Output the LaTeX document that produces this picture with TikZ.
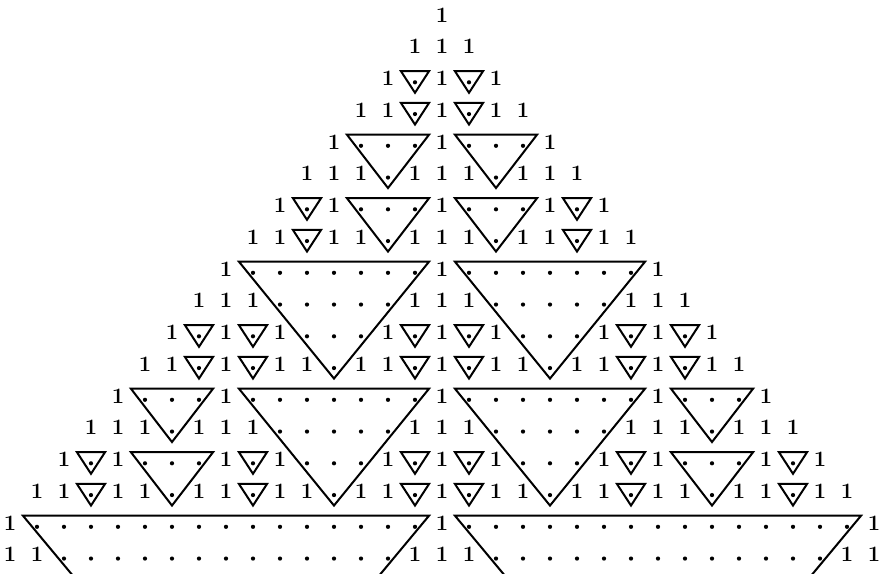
\documentclass[tikz,border=0pt]{standalone}
\usepackage{tikz}

\newcommand{\zerotri}[3]{%
  \draw[tri] ({(#2)-0.52},{(#1)-0.23}) -- ({(#3)+0.52},{(#1)-0.23})
    -- ({((#2)+(#3))/2},{(#1)+((#3)-(#2))/2+0.45}) -- cycle;}

\begin{document}
\begin{tikzpicture}[x=27pt, y=-31.75pt,
  one/.style={font=\fontsize{22}{22}\selectfont\bfseries, inner sep=0pt},
  nil/.style={fill=black},
  tri/.style={line width=2pt, line join=miter}]

\clip (-16.370,-0.4724) rectangle (16.296,17.575);

\foreach \digits [count=\r from 0] in {
  {1},
  {1,1,1},
  {1,0,1,0,1},
  {1,1,0,1,0,1,1},
  {1,0,0,0,1,0,0,0,1},
  {1,1,1,0,1,1,1,0,1,1,1},
  {1,0,1,0,0,0,1,0,0,0,1,0,1},
  {1,1,0,1,1,0,1,1,1,0,1,1,0,1,1},
  {1,0,0,0,0,0,0,0,1,0,0,0,0,0,0,0,1},
  {1,1,1,0,0,0,0,0,1,1,1,0,0,0,0,0,1,1,1},
  {1,0,1,0,1,0,0,0,1,0,1,0,1,0,0,0,1,0,1,0,1},
  {1,1,0,1,0,1,1,0,1,1,0,1,0,1,1,0,1,1,0,1,0,1,1},
  {1,0,0,0,1,0,0,0,0,0,0,0,1,0,0,0,0,0,0,0,1,0,0,0,1},
  {1,1,1,0,1,1,1,0,0,0,0,0,1,1,1,0,0,0,0,0,1,1,1,0,1,1,1},
  {1,0,1,0,0,0,1,0,1,0,0,0,1,0,1,0,1,0,0,0,1,0,1,0,0,0,1,0,1},
  {1,1,0,1,1,0,1,1,0,1,1,0,1,1,0,1,0,1,1,0,1,1,0,1,1,0,1,1,0,1,1},
  {1,0,0,0,0,0,0,0,0,0,0,0,0,0,0,0,1,0,0,0,0,0,0,0,0,0,0,0,0,0,0,0,1},
  {1,1,1,0,0,0,0,0,0,0,0,0,0,0,0,0,1,1,1,0,0,0,0,0,0,0,0,0,0,0,0,0,1,1,1}}{
  \foreach \v [count=\i from 0] in \digits{
    \pgfmathtruncatemacro\k{abs(\i-\r)}
    \ifnum\k<17
      \ifnum\v=1
        \node[one] (e-\r-\i) at ({\i-\r},\r) {1};
      \else
        \fill[nil] ({\i-\r},{\r+0.12}) circle (2.1pt);
      \fi
    \fi
  }
}

\foreach \r/\a/\b in {2/-1/-1, 3/-1/-1, 4/-3/-1, 6/-5/-5, 6/-3/-1, 7/-5/-5,
  8/-7/-1, 10/-9/-9, 10/-7/-7, 10/-1/-1, 11/-9/-9, 11/-7/-7, 11/-1/-1,
  12/-11/-9, 12/-7/-1, 14/-13/-13, 14/-11/-9, 14/-7/-7, 14/-1/-1,
  15/-13/-13, 15/-7/-7, 15/-1/-1, 16/-15/-1}{
  \zerotri{\r}{\a}{\b}
  \zerotri{\r}{-(\b)}{-(\a)}
}
\end{tikzpicture}
\end{document}
